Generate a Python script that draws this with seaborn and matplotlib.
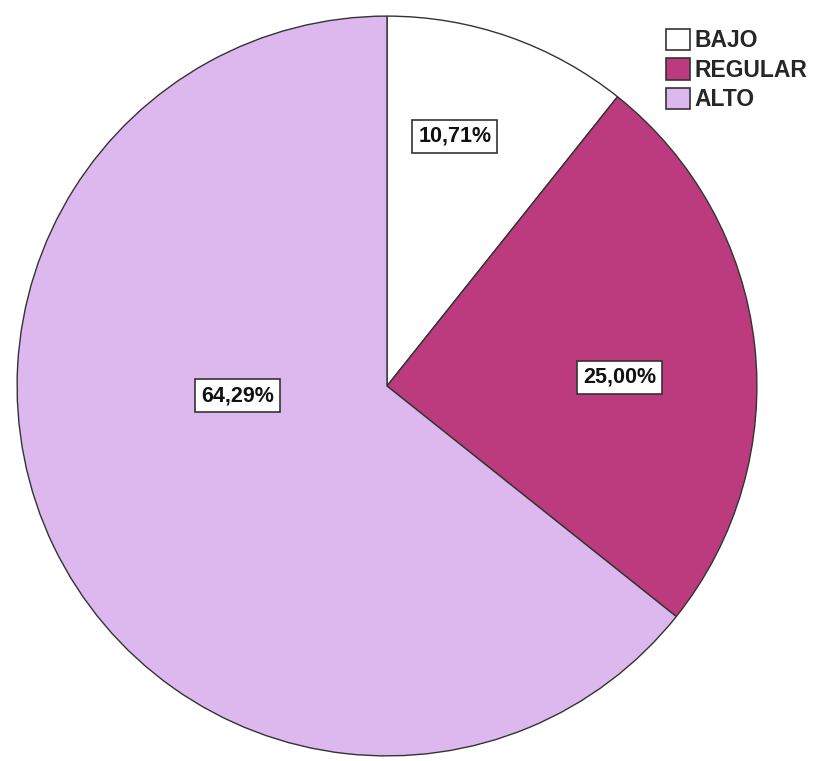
import matplotlib
matplotlib.use("Agg")
import matplotlib.pyplot as plt
import seaborn as sns
import numpy as np
from matplotlib.patches import Patch

sns.set_theme(style="white")
plt.rcParams["font.family"] = ["Liberation Sans", "DejaVu Sans"]

categories = ["BAJO", "REGULAR", "ALTO"]
percentages = [10.71, 25.00, 64.29]
colors = ["#FFFFFF", "#BB3B7E", "#DDB8EF"]
# label placement (radius fraction, angle in degrees) for each wedge's percentage box
label_radius = [0.70, 0.63, 0.405]
label_angle = [74.8, 2.2, 183.8]

W, H = 814, 761
fig = plt.figure(figsize=(W / 100, H / 100), dpi=100)
cx, cy, r = 387, 386, 371
ax = fig.add_axes([(cx - r) / W, (H - cy - r) / H, 2 * r / W, 2 * r / H])

wedges, _ = ax.pie(
    percentages,
    colors=colors,
    startangle=90,
    counterclock=False,
    radius=1,
    wedgeprops=dict(edgecolor="#333333", linewidth=1.0),
)
ax.set_xlim(-1.003, 1.003)
ax.set_ylim(-1.003, 1.003)
ax.set_aspect("auto")
ax.axis("off")

for p, rad, ang in zip(percentages, label_radius, label_angle):
    t = np.deg2rad(ang)
    ax.text(
        rad * np.cos(t), rad * np.sin(t),
        f"{p:.2f}%".replace(".", ","),
        ha="center", va="center", fontsize=15.5, fontweight="bold", color="#111111",
        bbox=dict(boxstyle="square,pad=0.28", facecolor="white", edgecolor="#333333", linewidth=1.2),
    )

handles = [Patch(facecolor=c, edgecolor="#333333", linewidth=1.2) for c in colors]
fig.legend(
    handles, categories,
    loc="upper left", bbox_to_anchor=(666 / W, 1 - 29 / H),
    frameon=False, handlelength=1.05, handleheight=1.05,
    handletextpad=0.2, labelspacing=0.26, borderpad=0, borderaxespad=0,
    prop=dict(weight="bold", size=16.5),
)

fig.savefig("out.png", dpi=100, facecolor="white")
